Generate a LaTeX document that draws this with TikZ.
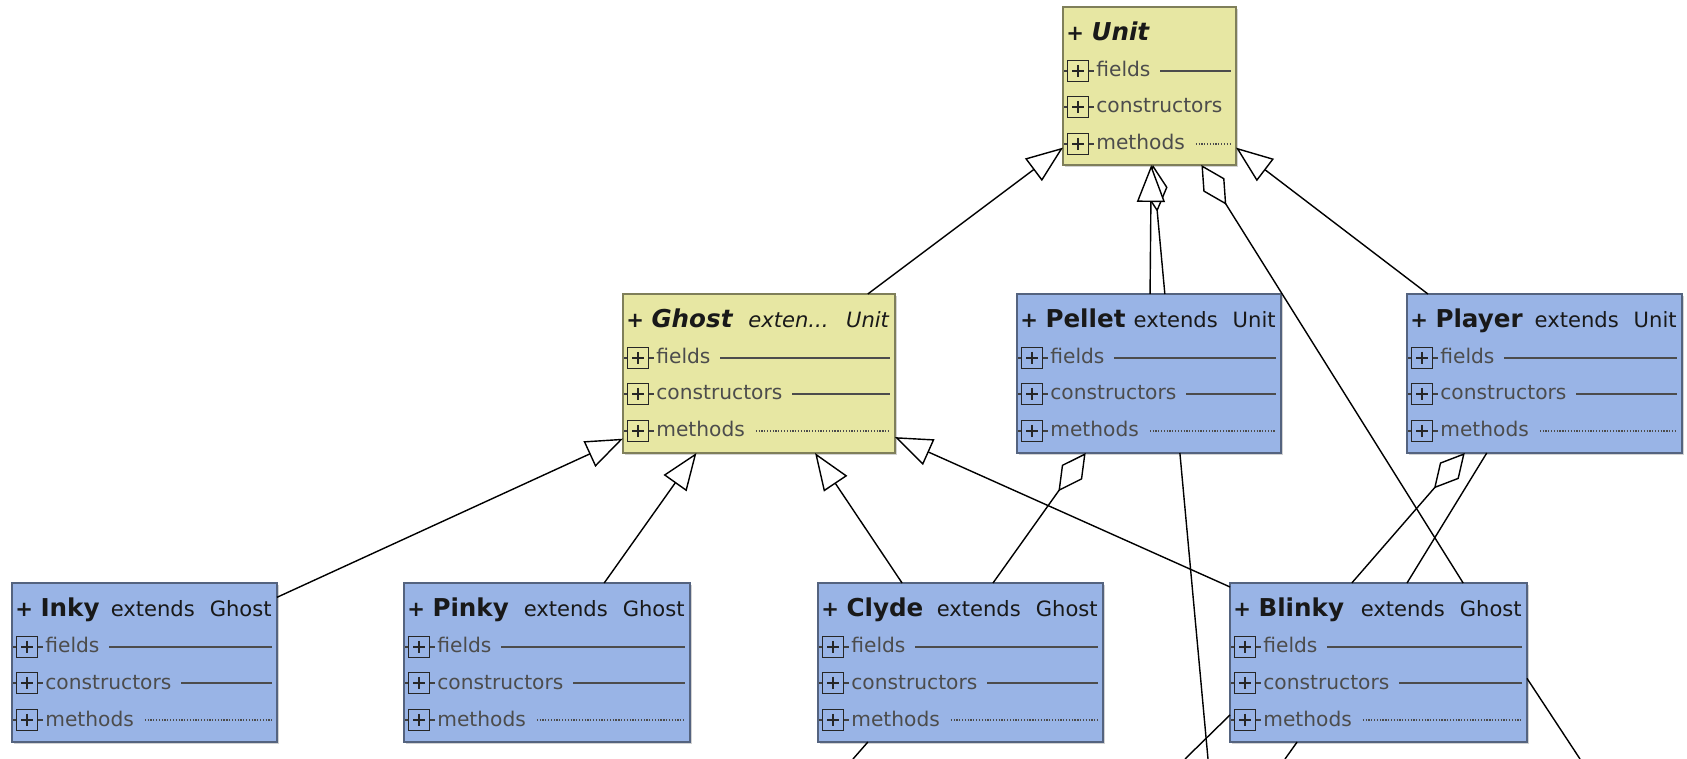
\documentclass[tikz,border=0pt]{standalone}
\usepackage{fontspec}
\setmainfont{DejaVu Sans}
\usetikzlibrary{arrows.meta,calc,positioning,fit,shadows}
\definecolor{umlyellow}{RGB}{231,231,163}
\definecolor{umlblue}{RGB}{153,180,230}

\begin{document}
\begin{tikzpicture}[x=0.02cm,y=-0.02cm,
  classbox/.style={draw=#1!55!black,fill=#1,line width=0.6pt,rectangle,inner sep=0pt,outer sep=0pt,
    drop shadow={shadow xshift=1.2pt,shadow yshift=-1.2pt,fill=black!35}},
  titletext/.style={anchor=base west,inner sep=0pt,font=\fontsize{12}{14}\selectfont,text=black!90},
  rowtext/.style={anchor=base west,inner xsep=0.2cm,inner ysep=1pt,fill=#1,
    font=\fontsize{11.5}{13}\selectfont,text=black!70},
  rowrule/.style={line width=0.7pt,draw=black!70},
  densedots/.style={dash pattern=on 0.7pt off 0.9pt},
  tick/.style={line width=0.6pt,draw=black!75},
  plusbox/.style={draw=black!85,fill=#1,line width=0.8pt,minimum size=0.42cm,inner sep=0pt,
    path picture={
      \draw[line width=1.1pt] ($(path picture bounding box.center)+(-6,0)$) -- ($(path picture bounding box.center)+(6,0)$);
      \draw[line width=1.1pt] ($(path picture bounding box.center)+(0,-6)$) -- ($(path picture bounding box.center)+(0,6)$);}},
  gen/.style={line width=0.8pt,-{Triangle[length=0.74cm,width=0.56cm,fill=white]}},
  agg/.style={line width=0.8pt,-{Diamond[length=0.94cm,width=0.5cm,fill=white]}},
  assoc/.style={line width=0.8pt}]

  \useasboundingbox (0,0) rectangle (1687,759);

  % class boxes
  \foreach \n/\l/\t/\r/\b/\c/\nm/\ext in {
      unit/1063/7/1236/165/umlyellow/{\textit{Unit}}/{},
      ghost/623/294/895/453/umlyellow/{\textit{Ghost}}/{\textit{exten...}\hspace{0.35cm}\textit{Unit}},
      pellet/1017/294/1281/453/umlblue/{Pellet}/{extends\hspace{0.3cm}Unit},
      player/1407/294/1682/453/umlblue/{Player}/{extends\hspace{0.3cm}Unit},
      inky/12/583/277/742/umlblue/{Inky}/{extends\hspace{0.3cm}Ghost},
      pinky/404/583/690/742/umlblue/{Pinky}/{extends\hspace{0.3cm}Ghost},
      clyde/818/583/1103/742/umlblue/{Clyde}/{extends\hspace{0.3cm}Ghost},
      blinky/1230/583/1527/742/umlblue/{Blinky}/{extends\hspace{0.3cm}Ghost}}
  {
    \node[classbox=\c,fit={(\l,\t) (\r,\b)}] (\n) {};
    \node[titletext] (\n-name) at (\l+3,\t+34) {\textbf{+}\hspace{0.15cm}{\fontsize{14}{16}\selectfont\bfseries\nm}};
    \node[titletext,anchor=base east] (\n-ext) at (\r-5,\t+34) {\ext};
    \foreach \row/\dy/\pat in {fields/64/solid,constructors/100/solid,methods/137/densedots}{
      \draw[rowrule,\pat] (\l+40,\t+\dy) -- (\r-5,\t+\dy);
      \node[rowtext=\c] (\n-\row) at ($(\l+33,\t+\dy+6)+(-0.2cm,0)$) {\row};
      \draw[tick] (\l+1,\t+\dy) -- (\l+31,\t+\dy);
      \node[plusbox=\c] (\n-\row-p) at (\l+15,\t+\dy) {};
    }
  }

  % loose ends below the picture
  \coordinate (outA) at (853,759);
  \coordinate (outB) at (1208,759);
  \coordinate (outC) at (1185,759);
  \coordinate (outD) at (1285,759);
  \coordinate (outE) at (1580,759);

  % aggregations
  \draw[agg] ($(pellet.north west)!0.56!(pellet.north east)$) -- ($(unit.south west)!0.52!(unit.south east)$);
  \draw[agg] ($(blinky.north west)!0.785!(blinky.north east)$) -- ($(unit.south west)!0.80!(unit.south east)$);
  \draw[agg] ($(clyde.north west)!0.614!(clyde.north east)$) -- ($(pellet.south west)!0.26!(pellet.south east)$);
  \draw[agg] ($(blinky.north west)!0.41!(blinky.north east)$) -- ($(player.south west)!0.21!(player.south east)$);

  % generalizations
  \draw[gen] ($(ghost.north west)!0.90!(ghost.north east)$) -- ($(unit.north west)!0.89!(unit.south west)$);
  \draw[gen] ($(pellet.north west)!0.504!(pellet.north east)$) -- ($(unit.south west)!0.51!(unit.south east)$);
  \draw[gen] ($(player.north west)!0.076!(player.north east)$) -- ($(unit.north east)!0.89!(unit.south east)$);
  \draw[gen] ($(inky.north east)!0.09!(inky.south east)$) -- ($(ghost.north west)!0.91!(ghost.south west)$);
  \draw[gen] ($(pinky.north west)!0.70!(pinky.north east)$) -- ($(ghost.south west)!0.27!(ghost.south east)$);
  \draw[gen] ($(clyde.north west)!0.295!(clyde.north east)$) -- ($(ghost.south west)!0.706!(ghost.south east)$);
  \draw[gen] ($(blinky.north west)!0.025!(blinky.south west)$) -- ($(ghost.north east)!0.90!(ghost.south east)$);

  % plain associations
  \draw[assoc] ($(player.south west)!0.29!(player.south east)$) -- ($(blinky.north west)!0.596!(blinky.north east)$);
  \draw[assoc] ($(pellet.south west)!0.617!(pellet.south east)$) -- (outB);
  \draw[assoc] ($(clyde.south west)!0.175!(clyde.south east)$) -- (outA);
  \draw[assoc] ($(blinky.north west)!0.83!(blinky.south west)$) -- (outC);
  \draw[assoc] ($(blinky.south west)!0.226!(blinky.south east)$) -- (outD);
  \draw[assoc] ($(blinky.north east)!0.60!(blinky.south east)$) -- (outE);
\end{tikzpicture}
\end{document}
